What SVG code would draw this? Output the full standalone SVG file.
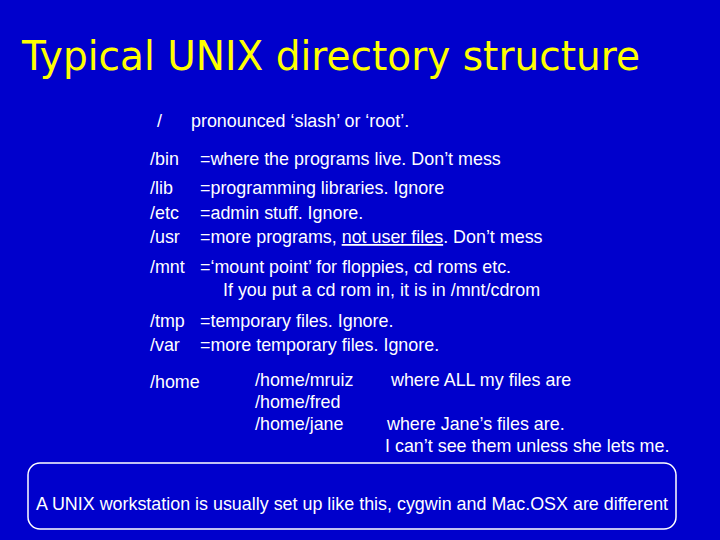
<svg xmlns="http://www.w3.org/2000/svg" width="720" height="540" viewBox="0 0 720 540">
<style>
.t{font-family:"Liberation Sans",Arial,sans-serif;font-size:17.9px;fill:#fff}
.h{font-family:"DejaVu Sans",sans-serif;font-size:40px;fill:#ffff00}
</style>
<rect width="720" height="540" fill="#0000cc"/>
<text class="h" x="22" y="70" textLength="618" lengthAdjust="spacingAndGlyphs">Typical UNIX directory structure</text>
<g class="t">
<text x="157" y="127">/</text>
<text x="191" y="127">pronounced ‘slash’ or ‘root’.</text>
<text x="150" y="165">/bin</text>
<text x="200" y="165">=where the programs live. Don’t mess</text>
<text x="150" y="194">/lib</text>
<text x="200" y="194">=programming libraries. Ignore</text>
<text x="150" y="219">/etc</text>
<text x="200" y="219">=admin stuff. Ignore.</text>
<text x="150" y="243">/usr</text>
<text x="200" y="243">=more programs, <tspan text-decoration="underline">not user files</tspan>. Don’t mess</text>
<text x="150" y="273">/mnt</text>
<text x="200" y="273">=‘mount point’ for floppies, cd roms etc.</text>
<text x="223" y="296">If you put a cd rom in, it is in /mnt/cdrom</text>
<text x="150" y="327">/tmp</text>
<text x="200" y="327">=temporary files. Ignore.</text>
<text x="150" y="351">/var</text>
<text x="200" y="351">=more temporary files. Ignore.</text>
<text x="150" y="388">/home</text>
<text x="255" y="386">/home/mruiz</text>
<text x="255" y="408">/home/fred</text>
<text x="255" y="430">/home/jane</text>
<text x="391" y="386">where ALL my files are</text>
<text x="387" y="430">where Jane’s files are.</text>
<text x="385" y="452">I can’t see them unless she lets me.</text>
<text x="36" y="510">A UNIX workstation is usually set up like this, cygwin and Mac.OSX are different</text>
</g>
<rect x="28" y="463" width="648" height="66" rx="12" fill="none" stroke="#fff" stroke-width="1.5"/>
</svg>
